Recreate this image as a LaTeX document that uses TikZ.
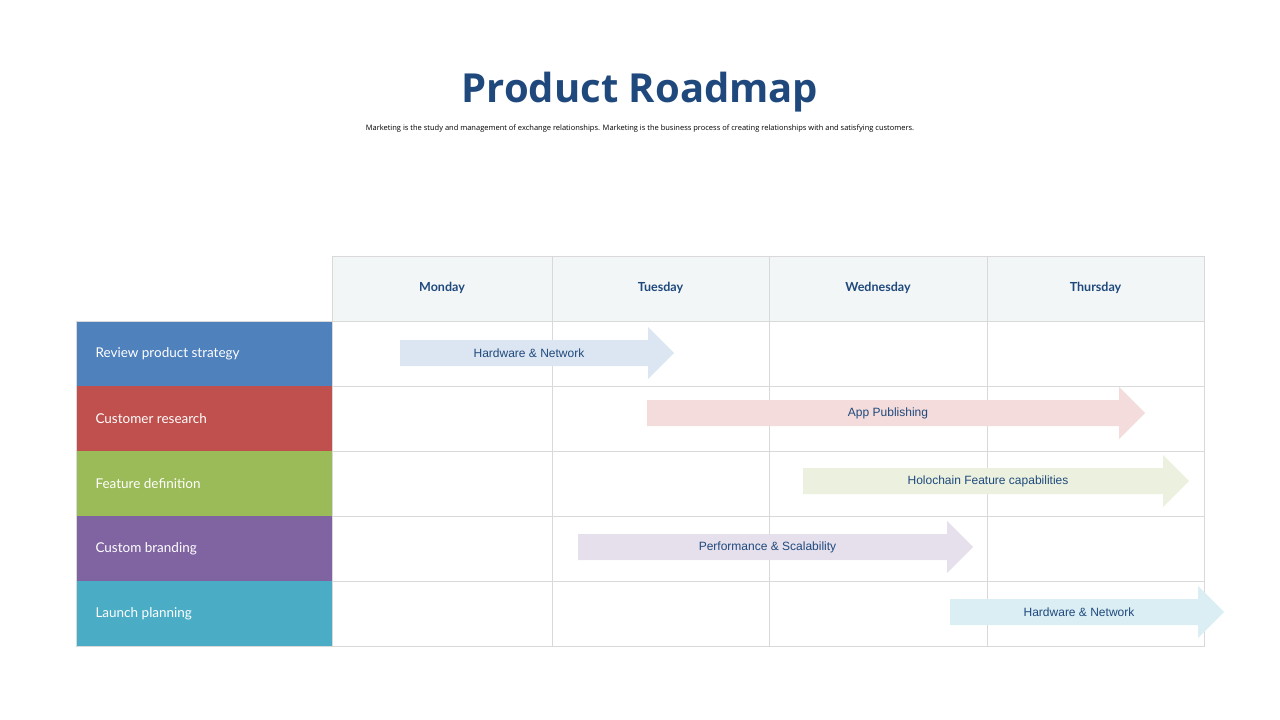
\documentclass[tikz,border=0pt]{standalone}
\usepackage{fontspec}
\setmainfont{Liberation Sans}
\newfontfamily\titlefont{Open Sans}
\newfontfamily\labelfont{Lato}
\usetikzlibrary{positioning}
\definecolor{navy}{HTML}{1F497D}
\definecolor{gridgray}{HTML}{D9D9D9}
\definecolor{headfill}{HTML}{F3F6F7}
\definecolor{rowA}{HTML}{4F81BD}
\definecolor{rowB}{HTML}{C0504D}
\definecolor{rowC}{HTML}{9BBB59}
\definecolor{rowD}{HTML}{8064A2}
\definecolor{rowE}{HTML}{4BACC6}
% bar arrow: start x, end x, middle y, colour, name, text
\newcommand{\bararrow}[6]{%
  \fill[#4!20] (#1,#3-13) -- (#2-26,#3-13) -- (#2-26,#3-26) -- (#2,#3)
    -- (#2-26,#3+26) -- (#2-26,#3+13) -- (#1,#3+13) -- cycle;
  \node[bartext] (#5) at ({(#1+#2)/2-8},#3) {#6};
}
\begin{document}
\begin{tikzpicture}[x=1pt,y=-1pt]

    \tikzset{cell/.style={draw=gridgray, line width=0.8pt}};
    \tikzset{daytext/.style={font=\labelfont\bfseries\fontsize{12.5}{15}\selectfont, text=navy}};
    \tikzset{rowtext/.style={font=\labelfont\fontsize{13.5}{16}\selectfont, text=white, anchor=west}};
    \tikzset{bartext/.style={font=\fontsize{12}{14}\selectfont, text=navy}};

    \useasboundingbox (0,0) rectangle (1280,720);

    %%%%%%%%%
    % title %
    %%%%%%%%%
    \node[font=\titlefont\bfseries\fontsize{40}{48}\selectfont, text=navy] (title) at (640,92) {Product Roadmap};
    \node[font=\titlefont\fontsize{7.5}{9}\selectfont, below=6pt of title] (subtitle)
      {Marketing is the study and management of exchange relationships. Marketing is the business process of creating relationships with and satisfying customers.};

    %%%%%%%%%%
    % header %
    %%%%%%%%%%
    \fill[headfill] (332,256) rectangle (1204,321);
    \foreach \xa/\xb/\day [count=\i] in {332/552/Monday, 552/769/Tuesday, 769/987/Wednesday, 987/1204/Thursday} {
      \node[daytext] (day\i) at ({(\xa+\xb)/2},288) {\day};
      \foreach \ya in {256,321,386,451,516,581}
        \draw[cell] (\xa,\ya) rectangle (\xb,\ya+65);
    }

    %%%%%%%%
    % rows %
    %%%%%%%%
    \foreach \ya/\col/\task [count=\i] in {321/rowA/Review product strategy, 386/rowB/Customer research,
        451/rowC/Feature definition, 516/rowD/Custom branding, 581/rowE/Launch planning} {
      \fill[\col] (76,\ya) rectangle (332,\ya+65);
      \node[rowtext] (task\i) at (92,\ya+32.5) {\task};
    }
    \draw[cell] (76,321) rectangle (332,646);

    %%%%%%%%%%
    % arrows %
    %%%%%%%%%%
    \bararrow{400}{674}{353}{rowA}{barA}{Hardware \& Network}
    \bararrow{647}{1145}{413}{rowB}{barB}{App Publishing}
    \bararrow{803}{1189}{481}{rowC}{barC}{Holochain Feature capabilities}
    \bararrow{578}{973}{547}{rowD}{barD}{Performance \& Scalability}
    \bararrow{950}{1224}{612}{rowE}{barE}{Hardware \& Network}

  \end{tikzpicture}
\end{document}
